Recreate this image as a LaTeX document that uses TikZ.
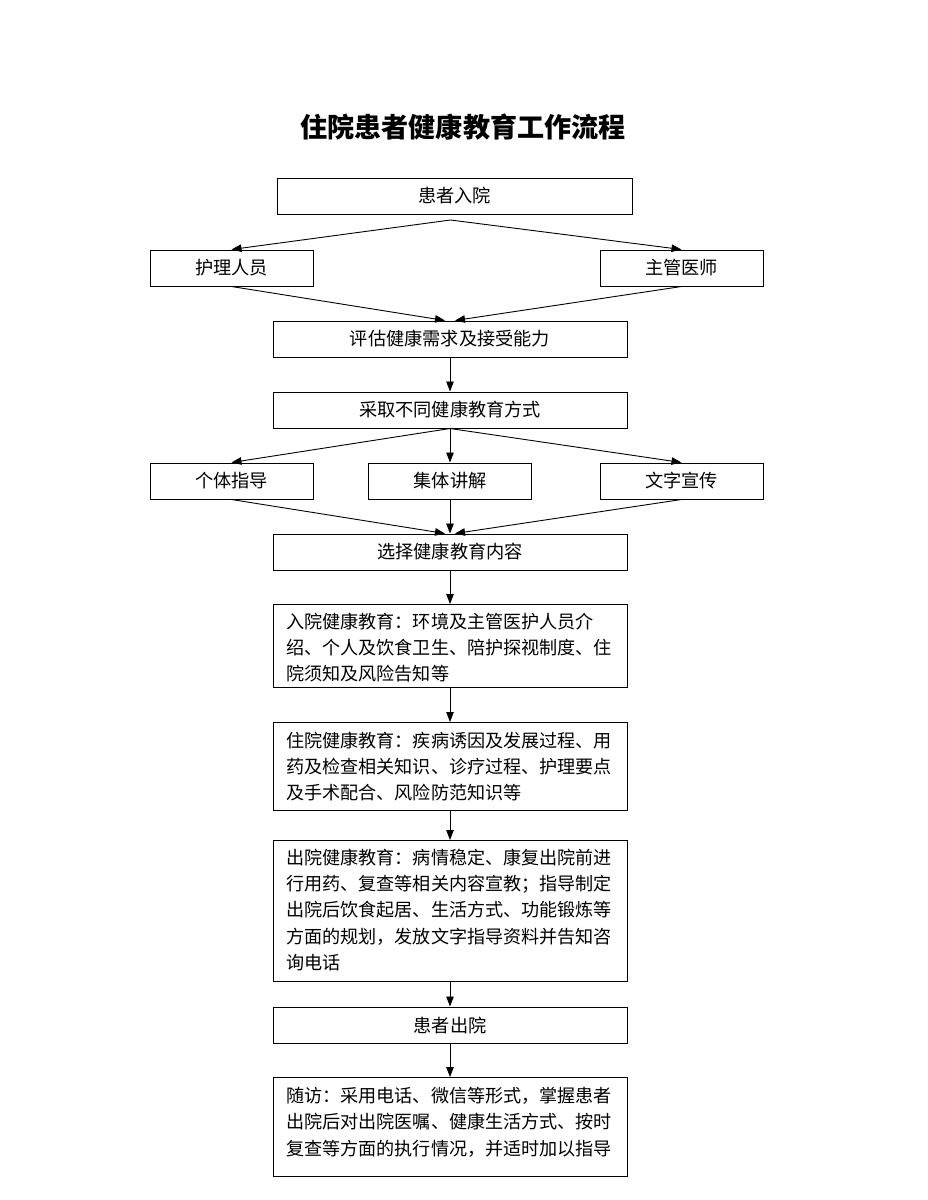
\documentclass[tikz,border=0pt]{standalone}
\usepackage{fontspec}
\setmainfont{Noto Sans CJK SC}
\usetikzlibrary{arrows.meta,calc}
\tikzset{
  box/.style={draw, line width=1pt, fill=white, inner sep=0pt, minimum height=36pt, font=\fontsize{18.2}{21}\selectfont},
  wide/.style={box, minimum width=354pt},
  narrow/.style={box, minimum width=163pt},
  frame/.style={draw, line width=1pt, minimum width=354pt, anchor=north},
  para/.style={anchor=north west, inner sep=0pt, align=left, font=\fontsize{18.1}{26.4}\selectfont},
  arr/.style={line width=0.9pt, -{Triangle[length=10pt,width=7.5pt]}},
}
\begin{document}
\begin{tikzpicture}[x=1pt,y=-1pt]
\useasboundingbox (0,0) rectangle (927,1200);
\node[font=\fontsize{27.1}{30}\selectfont\bfseries] (title) at (463,127) {住院患者健康教育工作流程};
\node[box, minimum width=355pt] (ry) at (454.5,196) {患者入院};
\node[narrow] (hl) at (231.5,268) {护理人员};
\node[narrow] (ys) at (681.5,268) {主管医师};
\node[wide] (pg) at (450,339) {评估健康需求及接受能力};
\node[wide] (cq) at (450,410) {采取不同健康教育方式};
\node[narrow] (gt) at (231.5,481) {个体指导};
\node[narrow] (jt) at (450,481) {集体讲解};
\node[narrow] (wz) at (681.5,481) {文字宣传};
\node[wide] (xz) at (450,552) {选择健康教育内容};
% paragraph boxes
\node[frame, minimum height=83pt] (rjy) at (450,604) {};
\node[para] (rjyt) at (286,612.5)
  {入院健康教育：环境及主管医护人员介\\绍、个人及饮食卫生、陪护探视制度、住\\院须知及风险告知等};
\node[frame, minimum height=88pt] (zjy) at (450,722) {};
\node[para] (zjyt) at (286,731.5)
  {住院健康教育：疾病诱因及发展过程、用\\药及检查相关知识、诊疗过程、护理要点\\及手术配合、风险防范知识等};
\node[frame, minimum height=141pt] (cjy) at (450,840) {};
\node[para] (cjyt) at (286,848.5)
  {出院健康教育：病情稳定、康复出院前进\\行用药、复查等相关内容宣教；指导制定\\出院后饮食起居、生活方式、功能锻炼等\\方面的规划，发放文字指导资料并告知咨\\询电话};
\node[wide] (cy) at (450,1025) {患者出院};
\node[frame, minimum height=99pt] (sf) at (450,1077) {};
\node[para] (sft) at (286,1087)
  {随访：采用电话、微信等形式，掌握患者\\出院后对出院医嘱、健康生活方式、按时\\复查等方面的执行情况，并适时加以指导};
% connectors
\coordinate (a0) at ($(ry.south)+(-4,5.5)$);
\draw[arr] (a0) -- (hl.north);
\draw[arr] (a0) -- (ys.north);
\draw[arr] (hl.south) -- ($(pg.north)+(-5,0)$);
\draw[arr] (ys.south) -- ($(pg.north)+(5,0)$);
\draw[arr] (pg) -- (cq);
\draw[arr] (cq.south) -- (gt.north);
\draw[arr] (cq.south) -- (jt.north);
\draw[arr] (cq.south) -- (wz.north);
\draw[arr] (gt.south) -- ($(xz.north)+(-5,0)$);
\draw[arr] (jt.south) -- (xz.north);
\draw[arr] (wz.south) -- ($(xz.north)+(5,0)$);
\draw[arr] (xz) -- (rjy);
\draw[arr] (rjy) -- (zjy);
\draw[arr] (zjy) -- (cjy);
\draw[arr] (cjy) -- (cy);
\draw[arr] (cy) -- (sf);
\end{tikzpicture}
\end{document}
